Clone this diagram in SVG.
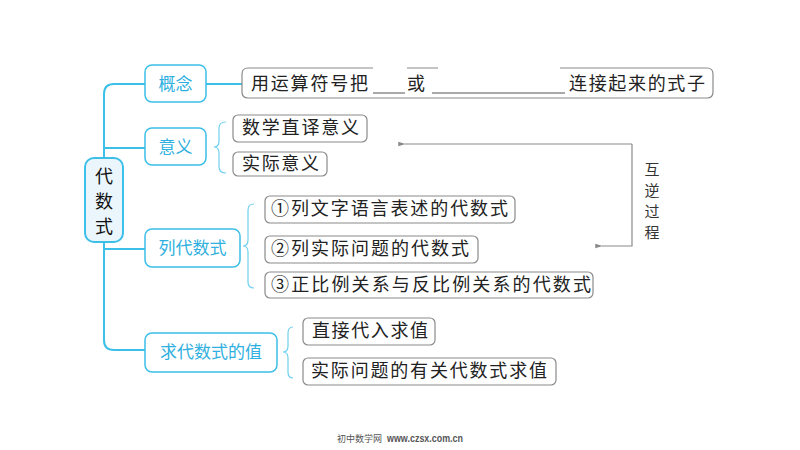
<svg xmlns="http://www.w3.org/2000/svg" width="800" height="450" viewBox="0 0 800 450">
<defs>
<style>
.node{fill:#fff;stroke:#3cbfe8;stroke-width:1.5}
.lbl{font-family:"Noto Sans CJK SC",sans-serif;font-size:17px;fill:#2fb0e0;text-anchor:middle}
.box{fill:#fff;stroke:#8a8a8a;stroke-width:1.2}
.txt{font-family:"Noto Sans CJK SC",sans-serif;font-size:18px;fill:#222}
.br{fill:none;stroke:#3cbfe8;stroke-width:2}
.brace{fill:none;stroke:#6fd0ef;stroke-width:1.2}
.arr{fill:none;stroke:#8a8a8a;stroke-width:1.2}
.blank{stroke:#555;stroke-width:1}
.root{font-family:"Noto Sans CJK SC",sans-serif;font-size:18px;fill:#111;text-anchor:middle}
.vt{font-family:"Noto Sans CJK SC",sans-serif;font-size:15px;fill:#333;text-anchor:middle}
</style>
<marker id="ah" viewBox="0 0 10 8" refX="1" refY="4" markerWidth="8" markerHeight="6" orient="auto-start-reverse" markerUnits="userSpaceOnUse">
<path d="M10,1 L0,4 L10,7 Z" fill="#8a8a8a"/>
</marker>
</defs>
<rect width="800" height="450" fill="#fff"/>
<g id="connectors">
<path class="br" d="M145,84 H114 Q104,84 104,94 V340 Q104,350 114,350 H145"/>
<path class="br" d="M104,148 H145 M104,249 H145 M206,84 H242"/>
<path class="brace" d="M226,122 Q219,122 219,128 V141 Q219,147 214,147 Q219,147 219,153 V167 Q219,173 226,173"/>
<path class="brace" d="M254,204 Q248,204 248,210 V240 Q248,246 243,246 Q248,246 248,252 V282 Q248,288 254,288"/>
<path class="brace" d="M293,327 Q288,327 288,333 V346 Q288,352 283,352 Q288,352 288,358 V372 Q288,378 293,378"/>
<path class="arr" d="M632,144 H405" marker-end="url(#ah)"/>
<path class="arr" d="M632,144 V246 H602" marker-end="url(#ah)"/>
</g>
<g id="root">
<rect x="85" y="158" width="38" height="84" rx="9" fill="#eaf6fc" stroke="#3cbfe8" stroke-width="2"/>
<text class="root" x="104" y="182.5">代</text>
<text class="root" x="104" y="207.5">数</text>
<text class="root" x="104" y="232.5">式</text>
</g>
<g id="n-gainian">
<rect class="node" x="145" y="65" width="61" height="37" rx="7"/>
<text class="lbl" x="175.5" y="90">概念</text>
</g>
<g id="n-yiyi">
<rect class="node" x="145" y="128" width="61" height="37" rx="7"/>
<text class="lbl" x="175.5" y="153">意义</text>
</g>
<g id="n-lie">
<rect class="node" x="145" y="229" width="95" height="38" rx="7"/>
<text class="lbl" x="192.5" y="254">列代数式</text>
</g>
<g id="n-qiu">
<rect class="node" x="145" y="333" width="132" height="39" rx="7"/>
<text class="lbl" x="211" y="358">求代数式的值</text>
</g>
<g id="c-gainian">
<path class="box" fill="none" d="M373,68 H248 Q242,68 242,74 V92 Q242,98 248,98 H707 Q713,98 713,92 V74 Q713,68 707,68 H560 M438,68 H407"/>
<text class="txt" x="251" y="90" textLength="117" lengthAdjust="spacing">用运算符号把</text>
<line class="blank" x1="373" y1="93" x2="405" y2="93"/>
<text class="txt" x="407" y="90">或</text>
<line class="blank" x1="432" y1="93" x2="565" y2="93"/>
<text class="txt" x="569" y="90" textLength="136" lengthAdjust="spacing">连接起来的式子</text>
</g>
<g id="c-zhiyi">
<rect class="box" x="233" y="115" width="134" height="27" rx="5"/>
<text class="txt" x="242" y="134" textLength="117" lengthAdjust="spacing">数学直译意义</text>
</g>
<g id="c-shiji">
<rect class="box" x="233" y="152" width="94" height="24" rx="5"/>
<text class="txt" x="242" y="170" textLength="77" lengthAdjust="spacing">实际意义</text>
</g>
<g id="c-1">
<rect class="box" x="265" y="196" width="250" height="27" rx="5"/>
<text class="txt" x="271" y="215" textLength="237" lengthAdjust="spacing">①列文字语言表述的代数式</text>
</g>
<g id="c-2">
<rect class="box" x="265" y="236" width="213" height="27" rx="5"/>
<text class="txt" x="271" y="255" textLength="198" lengthAdjust="spacing">②列实际问题的代数式</text>
</g>
<g id="c-3">
<rect class="box" x="265" y="272" width="328" height="26" rx="5"/>
<text class="txt" x="271" y="291" textLength="320" lengthAdjust="spacing">③正比例关系与反比例关系的代数式</text>
</g>
<g id="c-zhijie">
<rect class="box" x="303" y="318" width="132" height="27" rx="5"/>
<text class="txt" x="312" y="337" textLength="116" lengthAdjust="spacing">直接代入求值</text>
</g>
<g id="c-shijiqiu">
<rect class="box" x="303" y="358" width="253" height="27" rx="5"/>
<text class="txt" x="311" y="377" textLength="236" lengthAdjust="spacing">实际问题的有关代数式求值</text>
</g>
<g id="label-huni">
<text class="vt" x="652" y="175">互</text>
<text class="vt" x="652" y="196">逆</text>
<text class="vt" x="652" y="217">过</text>
<text class="vt" x="652" y="238">程</text>
</g>
<g id="footer">
<text x="337" y="442" font-family="'Noto Sans CJK SC',serif" font-size="9" fill="#555">初中数学网</text>
<text x="387" y="442" font-family="'Liberation Sans',sans-serif" font-size="10" font-weight="bold" fill="#555" textLength="76" lengthAdjust="spacingAndGlyphs">www.czsx.com.cn</text>
</g>
</svg>
